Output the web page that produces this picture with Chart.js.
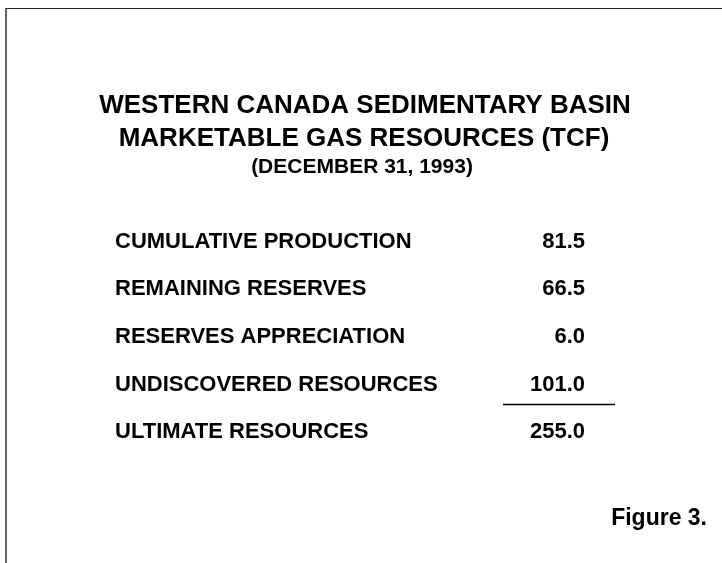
<!DOCTYPE html>
<html lang="en">
<head>
    <meta charset="UTF-8">
    <title>Western Canada Sedimentary Basin - Marketable Gas Resources</title>
    <script src="https://cdn.jsdelivr.net/npm/chart.js"></script>
    <style>
        body {
            margin: 0;
            background: #fff;
        }
        #wrap {
            position: relative;
            width: 722px;
            height: 563px;
        }
        #frame {
            position: absolute;
            left: 5px;
            top: 8px;
            right: 0;
            bottom: 0;
            border-top: 1px solid #222;
            border-left: 2px solid #666;
            pointer-events: none;
        }
        canvas {
            position: absolute;
            left: 0;
            top: 0;
        }
    </style>
</head>
<body>
    <div id="wrap">
        <canvas id="gasChart" width="722" height="563"></canvas>
        <div id="frame"></div>
    </div>

    <script>
        const titleLines = ['WESTERN CANADA SEDIMENTARY BASIN', 'MARKETABLE GAS RESOURCES (TCF)'];
        const dateLine = '(DECEMBER 31, 1993)';
        const figureLabel = 'Figure 3.';

        const rowLabels = [
            'CUMULATIVE PRODUCTION',
            'REMAINING RESERVES',
            'RESERVES APPRECIATION',
            'UNDISCOVERED RESOURCES',
            'ULTIMATE RESOURCES'
        ];
        const gasTcf = [81.5, 66.5, 6.0, 101.0, 255.0];

        const FONT = "'Liberation Sans', Arial, sans-serif";

        // headings, the total rule and the figure number
        const sheetText = {
            id: 'sheetText',
            afterDraw(chart) {
                const ctx = chart.ctx;
                const y = chart.scales.y;
                const vals = chart.scales.y2;
                ctx.save();
                ctx.fillStyle = '#000';
                ctx.textAlign = 'center';
                ctx.textBaseline = 'middle';
                ctx.font = 'bold 26px ' + FONT;
                ctx.fillText(titleLines[0], 365, 106);
                ctx.fillText(titleLines[1], 364, 139);
                ctx.font = 'bold 21px ' + FONT;
                ctx.fillText(dateLine, 362, 167);

                // rule above the total
                const ruleY = y.getPixelForValue(3.42);
                ctx.strokeStyle = '#000';
                ctx.lineWidth = 1.5;
                ctx.beginPath();
                ctx.moveTo(vals.right - 82, ruleY);
                ctx.lineTo(vals.right + 30, ruleY);
                ctx.stroke();

                ctx.textAlign = 'right';
                ctx.font = 'bold 23px ' + FONT;
                ctx.fillText(figureLabel, 707, 519);
                ctx.restore();
            }
        };

        const ctx = document.getElementById('gasChart').getContext('2d');
        const gasChart = new Chart(ctx, {
            type: 'bar',
            data: {
                labels: rowLabels,
                datasets: [{
                    label: 'TCF',
                    data: gasTcf,
                    backgroundColor: 'rgba(0,0,0,0)',
                    borderWidth: 0
                }]
            },
            options: {
                indexAxis: 'y',
                responsive: false,
                animation: false,
                layout: {
                    padding: { top: 218, bottom: 107, left: 115, right: 137 }
                },
                scales: {
                    x: {
                        display: false,
                        min: 0,
                        max: 300
                    },
                    y: {
                        position: 'left',
                        grid: { display: false, drawTicks: false },
                        border: { display: false },
                        afterFit(scale) {
                            scale.width = 330;
                        },
                        ticks: {
                            color: '#000',
                            crossAlign: 'far',
                            padding: 0,
                            font: { family: FONT, size: 22, weight: 'bold' }
                        }
                    },
                    y2: {
                        type: 'category',
                        position: 'right',
                        offset: true,
                        labels: gasTcf.map(v => v.toFixed(1)),
                        grid: { display: false, drawTicks: false },
                        border: { display: false },
                        ticks: {
                            color: '#000',
                            crossAlign: 'far',
                            padding: 0,
                            font: { family: FONT, size: 22, weight: 'bold' }
                        }
                    }
                },
                plugins: {
                    legend: { display: false },
                    tooltip: { enabled: false }
                }
            },
            plugins: [sheetText]
        });
    </script>
</body>
</html>
